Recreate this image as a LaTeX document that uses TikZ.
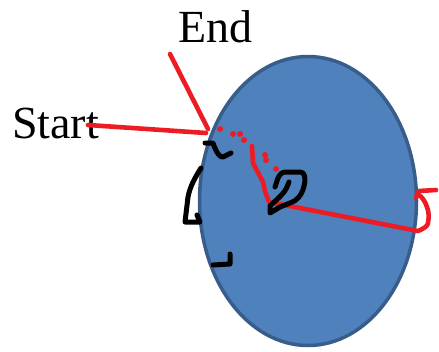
\documentclass[tikz,border=0pt]{standalone}
\usepackage{fontspec}
\setmainfont{Liberation Serif}
\usetikzlibrary{shapes.geometric}
\definecolor{blobfill}{RGB}{79,129,189}
\definecolor{blobedge}{RGB}{56,93,138}
\definecolor{pen}{RGB}{237,28,36}
\tikzset{
  blob/.style={ellipse, fill=blobfill, draw=blobedge, line width=3.5pt, minimum width=217pt, minimum height=289pt, inner sep=0pt},
  label/.style={font=\fontsize{46}{50}\selectfont, inner sep=0pt, anchor=base west},
  redpen/.style={draw=pen, line width=4.6pt, line cap=round, line join=round},
  blackpen/.style={draw=black, line width=5pt, line cap=round, line join=round},
  reddot/.style={fill=pen}
}
\begin{document}
\begin{tikzpicture}[x=1pt,y=-1pt]
\useasboundingbox (0,0) rectangle (439,351);
\node[blob] (oval) at (308,201) {};
\node[label] (start) at (12,138) {Start};
\node[label] (end) at (178,42) {End};
% red strokes
\coordinate (s1) at (88,125);
\coordinate (s2) at (206,133);
\coordinate (e1) at (170,54);
\coordinate (e2) at (208,129);
\draw[redpen] (s1) -- (s2);
\draw[redpen] (e1) -- (e2);
\foreach \p in {(220,129),(233,134),(240,134),(244,140),(265,155),(266,160),(276,169)}
  \fill[reddot] \p circle (3pt);
\coordinate (r1) at (252,146);
\coordinate (r2) at (253,163);
\coordinate (r3) at (263,182);
\coordinate (r4) at (265,191);
\coordinate (r5) at (269,202);
\coordinate (r6) at (418,231);
\coordinate (r7) at (428,223);
\coordinate (r8) at (427,207);
\coordinate (r9) at (419,195);
\coordinate (r10) at (416,198);
\coordinate (r11) at (419,191);
\coordinate (r12) at (436,190);
\draw[redpen] (r1) -- (r2) -- (r3) -- (r4) -- (r5) -- (r6) .. controls (423,229) and (428,226) .. (r7) .. controls (429,217) and (429,212) .. (r8) .. controls (425,201) and (422,197) .. (r9);
\draw[redpen] (r10) .. controls (417,195) and (418,192) .. (r11) -- (r12);
% black strokes
\draw[blackpen] (205,143) -- (213,143) .. controls (216,152) and (220,158) .. (223,157) -- (231,153);
\draw[blackpen] (201,168) .. controls (196,176) and (190,186) .. (188,197) -- (185,222) -- (200,222) -- (197,215);
\draw[blackpen] (213,265) -- (230,264) -- (230,254);
\draw[blackpen] (275,187) -- (278,178) .. controls (280,174) and (282,172) .. (286,172) -- (300,172) .. controls (305,172) and (306,178) .. (304,186) .. controls (302,195) and (297,201) .. (290,203) -- (280,207) -- (270,213) -- (270,206) .. controls (276,200) and (284,194) .. (287,187) -- (289,182);
\end{tikzpicture}
\end{document}
